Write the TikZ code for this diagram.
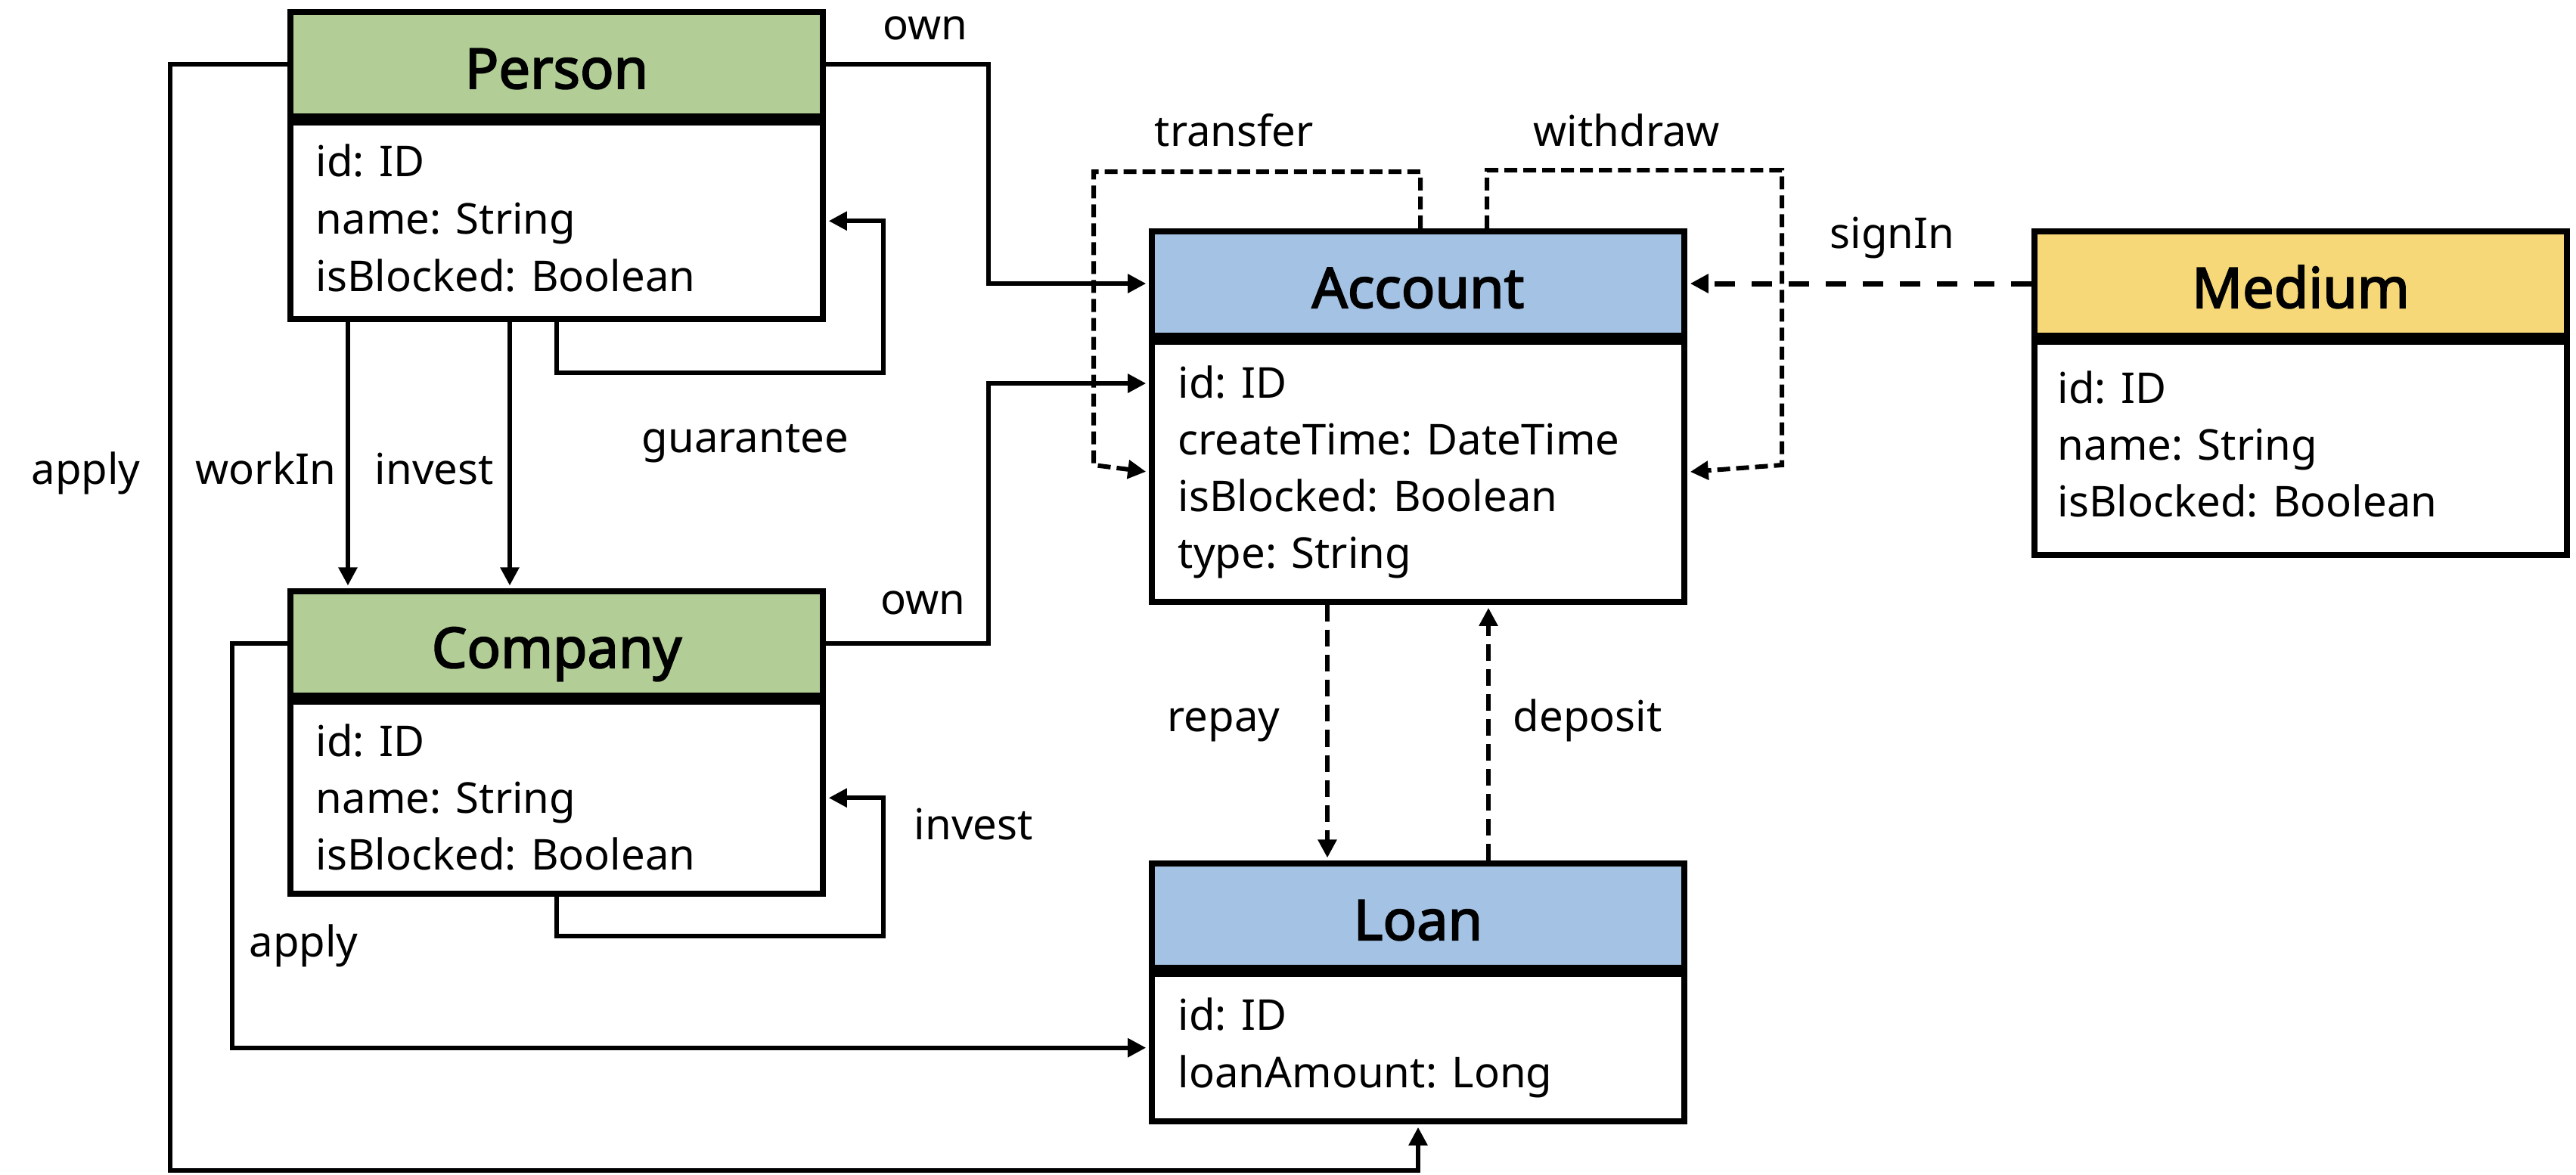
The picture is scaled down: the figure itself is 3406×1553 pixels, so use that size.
\documentclass[tikz,border=0pt]{standalone}
\usepackage{fontspec}
\setmainfont{Noto Sans}
\newfontfamily\titlefont{Noto Sans}[FakeBold=2.6]
\usetikzlibrary{arrows.meta}
\definecolor{entgreen}{RGB}{178,206,150}
\definecolor{entblue}{RGB}{164,194,227}
\definecolor{entyellow}{RGB}{247,216,120}

\begin{document}
\begin{tikzpicture}[x=0.01cm,y=-0.01cm,
  hdr/.style={draw, line width=2.3pt, minimum width=7.04cm, minimum height=1.38cm,
    inner sep=0pt, text height=0.64cm, text depth=0cm,
    font=\fontsize{21}{25}\titlefont},
  bodybox/.style={draw, line width=2.3pt, fill=white, minimum width=7.04cm,
    inner sep=0pt, anchor=north},
  attr/.style={anchor=base west, inner sep=0pt, font=\fontsize{16}{20}\selectfont},
  lbl/.style={anchor=base west, inner sep=0pt, font=\fontsize{16}{20}\selectfont},
  conn/.style={line width=1.6pt, shorten >=1pt,
    -{Triangle[length=0.24cm,width=0.24cm]}},
  dconn/.style={conn, dash pattern=on 0.22cm off 0.11cm},
  fconn/.style={conn, line width=1.7pt, dash pattern=on 0.17cm off 0.08cm},
  sconn/.style={conn, line width=2pt, dash pattern=on 0.27cm off 0.22cm},
]
\useasboundingbox (0,0) rectangle (3406,1553);

% ---------- entities ----------
\node[hdr, fill=entgreen] (personH) at (736,85) {Person};
\node[bodybox, minimum height=2.6cm] (personB) at (personH.south) {};
\node[attr] (p1) at (417,233) {id: ID};
\node[attr] (p2) at (417,309) {name: String};
\node[attr] (p3) at (417,385) {isBlocked: Boolean};

\node[hdr, fill=entgreen] (companyH) at (736,851) {Company};
\node[bodybox, minimum height=2.54cm] (companyB) at (companyH.south) {};
\node[attr] (c1) at (417,1000) {id: ID};
\node[attr] (c2) at (417,1075) {name: String};
\node[attr] (c3) at (417,1150) {isBlocked: Boolean};

\node[hdr, fill=entblue] (accountH) at (1875,375) {Account};
\node[bodybox, minimum height=3.44cm] (accountB) at (accountH.south) {};
\node[attr] (a1) at (1557,526) {id: ID};
\node[attr] (a2) at (1557,601) {createTime: DateTime};
\node[attr] (a3) at (1557,676) {isBlocked: Boolean};
\node[attr] (a4) at (1557,751) {type: String};

\node[hdr, fill=entblue] (loanH) at (1875,1211) {Loan};
\node[bodybox, minimum height=1.95cm] (loanB) at (loanH.south) {};
\node[attr] (l1) at (1557,1362) {id: ID};
\node[attr] (l2) at (1557,1438) {loanAmount: Long};

\node[hdr, fill=entyellow] (mediumH) at (3042,375) {Medium};
\node[bodybox, minimum height=2.82cm] (mediumB) at (mediumH.south) {};
\node[attr] (m1) at (2720,533) {id: ID};
\node[attr] (m2) at (2720,608) {name: String};
\node[attr] (m3) at (2720,683) {isBlocked: Boolean};

% ---------- routing points ----------
\coordinate (ownA) at (1307,375);
\coordinate (ownB) at (1307,507);
\coordinate (applyP) at (225,1548);
\coordinate (applyC) at (307,1100);
\coordinate (workX) at (460,0);
\coordinate (investX) at (674,0);
\coordinate (guarA) at (1168,493);
\coordinate (cinvA) at (1168,1238);
\coordinate (trA) at (1878,227);
\coordinate (trB) at (1446,615);
\coordinate (wdA) at (1966,225);
\coordinate (wdB) at (2356,615);
\coordinate (repX) at (1755,0);
\coordinate (depX) at (1968,0);

% ---------- connectors ----------
\draw[conn] (personH.east) -| (ownA) -- (accountH.west);
\draw[conn] (companyH.east) -| (ownB) -- (accountB.west |- ownB);
\draw[conn] (personH.west) -| (applyP) -| (loanB.south);
\draw[conn] (companyH.west) -| (applyC) |- (loanB.west);
\draw[conn] (personB.south -| workX) -- (companyH.north -| workX);
\draw[conn] (personB.south -| investX) -- (companyH.north -| investX);
\draw[conn] (personB.south) |- (guarA) |- (personB.east);
\draw[conn] (companyB.south) |- (cinvA) |- (companyB.east);
\draw[fconn] (accountH.north -| trA) -- (trA) -| (trB) -- (accountB.west);
\draw[fconn] (accountH.north -| wdA) -- (wdA) -| (wdB) -- (accountB.east);
\draw[sconn] (mediumH.west) -- (accountH.east);
\draw[dconn] (accountB.south -| repX) -- (loanH.north -| repX);
\draw[dconn] (loanH.north -| depX) -- (accountB.south -| depX);

% ---------- labels ----------
\node[lbl] (tOwnP) at (1167,52) {own};
\node[lbl] (tTransfer) at (1526,193) {transfer};
\node[lbl] (tWithdraw) at (2027,193) {withdraw};
\node[lbl] (tSignIn) at (2419,328) {signIn};
\node[lbl] (tApplyP) at (41,640) {apply};
\node[lbl] (tWorkIn) at (258,640) {workIn};
\node[lbl] (tInvestP) at (495,640) {invest};
\node[lbl] (tGuar) at (848,598) {guarantee};
\node[lbl] (tOwnC) at (1164,812) {own};
\node[lbl] (tRepay) at (1543,967) {repay};
\node[lbl] (tDeposit) at (2000,967) {deposit};
\node[lbl] (tInvestC) at (1208,1110) {invest};
\node[lbl] (tApplyC) at (329,1265) {apply};
\end{tikzpicture}
\end{document}
